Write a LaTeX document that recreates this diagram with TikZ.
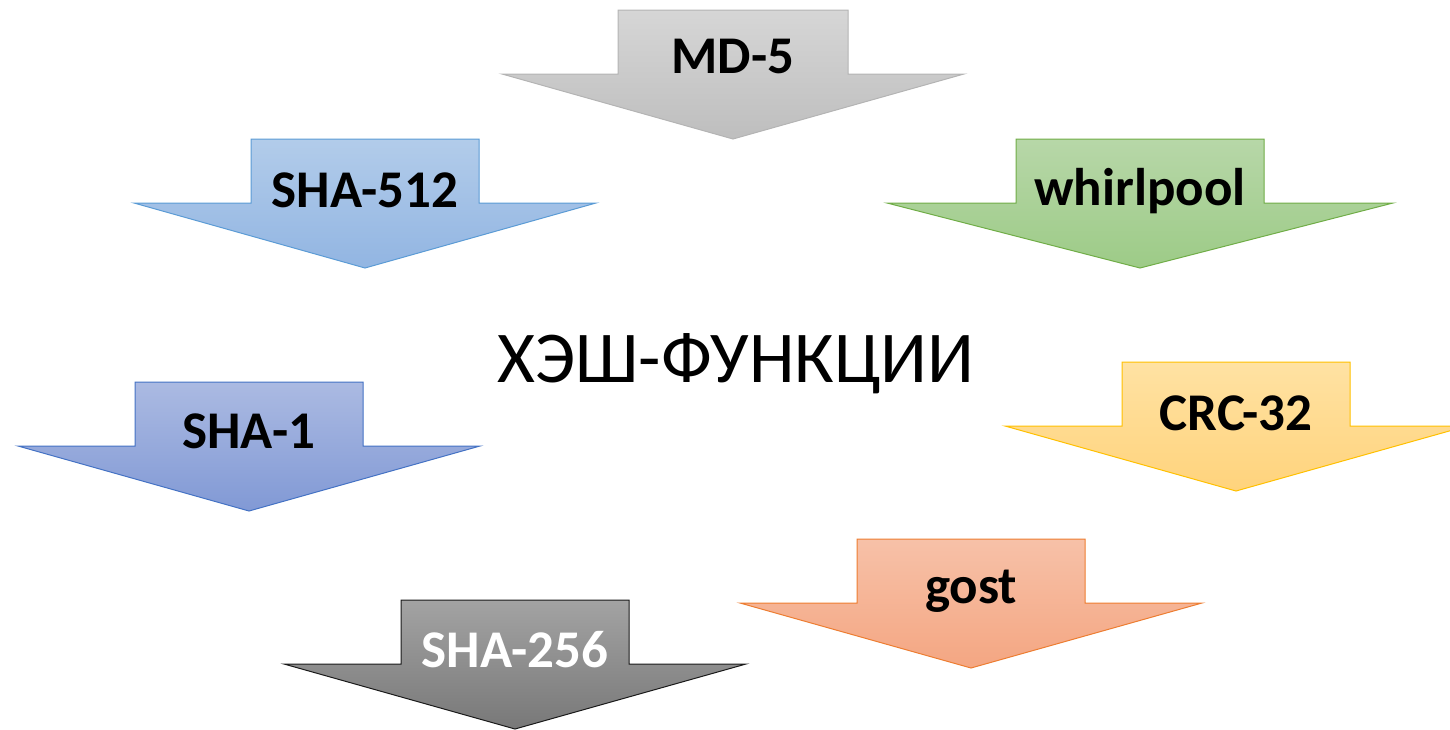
\documentclass[tikz,border=0pt]{standalone}
\usepackage{fontspec}
\setmainfont{Carlito}
\definecolor{mdtop}{HTML}{D6D6D6}\definecolor{mdbot}{HTML}{BEBEBE}\definecolor{mdline}{HTML}{B4B4B4}
\definecolor{sfivetop}{HTML}{B2CCEA}\definecolor{sfivebot}{HTML}{92B5E2}\definecolor{sfiveline}{HTML}{5B9BD5}
\definecolor{whtop}{HTML}{B7D7A8}\definecolor{whbot}{HTML}{9DCB87}\definecolor{whline}{HTML}{70AD47}
\definecolor{sonetop}{HTML}{ABBAE2}\definecolor{sonebot}{HTML}{8199D5}\definecolor{soneline}{HTML}{4472C4}
\definecolor{crctop}{HTML}{FFE2A3}\definecolor{crcbot}{HTML}{FFD37C}\definecolor{crcline}{HTML}{FFC000}
\definecolor{gotop}{HTML}{F7C1A8}\definecolor{gobot}{HTML}{F4A682}\definecolor{goline}{HTML}{ED7D31}
\definecolor{stwotop}{HTML}{A3A3A3}\definecolor{stwobot}{HTML}{787878}\definecolor{stwoline}{HTML}{1A1A1A}
\tikzset{
  blockarrow/.style={line width=1pt, line join=miter},
  lbl/.style={anchor=base, inner sep=0pt, font=\fontsize{53}{58}\selectfont\bfseries, text=black},
  title/.style={anchor=base, inner sep=0pt, font=\fontsize{73}{80}\selectfont, text=black}
}
% #1 node name, #2 centre x, #3 top y, #4 half shaft width, #5 half head width,
% #6 fill/draw options, #7 baseline offset, #8 label text, #9 extra label options
\newcommand\hasharrow[9]{%
  \draw[blockarrow,#6] (#2-#4,#3) -- (#2+#4,#3) -- (#2+#4,#3+64) -- (#2+#5,#3+64)
    -- (#2,#3+129) -- (#2-#5,#3+64) -- (#2-#4,#3+64) -- cycle;
  \node[lbl,#9] (#1) at (#2,#3+#7) {#8};
}
\begin{document}
\begin{tikzpicture}[x=1pt,y=-1pt]
\useasboundingbox (0,0) rectangle (1450,729);
\clip (0,0) rectangle (1450,729);
\hasharrow{md}{733}{10}{115}{231}{top color=mdtop,bottom color=mdbot,draw=mdline}{63}{MD-5}{}
\hasharrow{shafive}{365}{139}{114}{231}{top color=sfivetop,bottom color=sfivebot,draw=sfiveline}{68}{SHA-512}{}
\hasharrow{whirl}{1140}{139}{124}{253}{top color=whtop,bottom color=whbot,draw=whline}{66}{whirlpool}{}
\hasharrow{shaone}{249}{382}{114}{231}{top color=sonetop,bottom color=sonebot,draw=soneline}{66}{SHA-1}{}
\hasharrow{crc}{1236}{362}{114}{231}{top color=crctop,bottom color=crcbot,draw=crcline}{68}{CRC-32}{}
\hasharrow{gost}{971}{539}{114}{231}{top color=gotop,bottom color=gobot,draw=goline}{64}{gost}{}
\hasharrow{shatwo}{515}{600}{114}{231}{top color=stwotop,bottom color=stwobot,draw=stwoline}{67}{SHA-256}{text=white}
\node[title] (hash) at (736,382) {ХЭШ-ФУНКЦИИ};
\end{tikzpicture}
\end{document}
